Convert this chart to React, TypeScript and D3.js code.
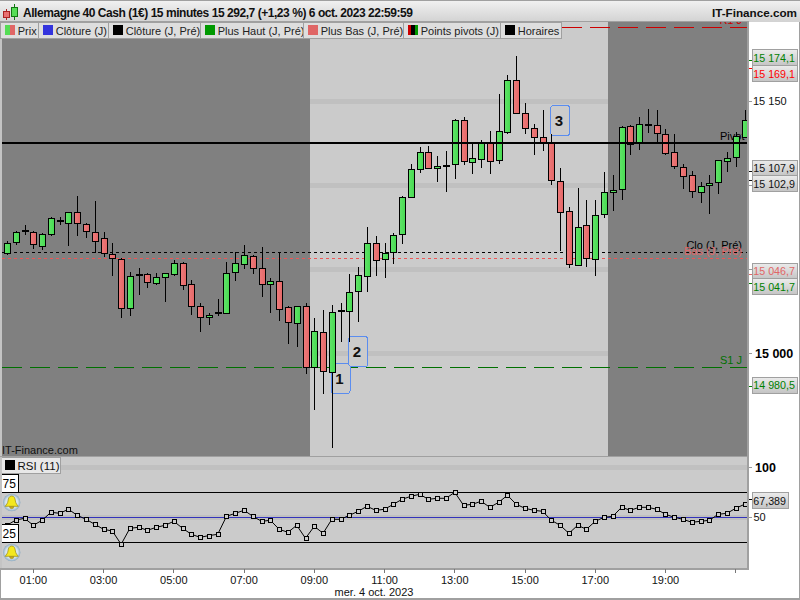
import React from "react";
import * as d3 from "d3";

const opens = [15059.5,15066.3,15072.5,15072.3,15064,15070.7,15078.6,15077.3,15083.8,15076.7,15071.9,15068.4,15058.9,15055.9,15027.1,15046.3,15047,15041.6,15045.5,15047,15053.5,15041,15028.3,15021.8,15023.8,15023.8,15048.2,15052.9,15057.7,15050.5,15041,15042.8,15027.3,15017.8,15027.9,14991.7,15012.5,14988.7,15025.1,15025,15036.9,15045.8,15065.4,15056.1,15060.4,15070.7,15093.1,15109.4,15119.5,15110,15111.6,15112.4,15138.5,15113.5,15115.3,15125,15114.7,15131.4,15162.3,15142.7,15133.8,15128.4,15124.8,15102.3,15084.4,15052.3,15076.1,15055.9,15082.6,15095.7,15097.5,15135,15125.4,15135.7,15135.5,15130.2,15119.5,15110.6,15105.8,15095.7,15099.9,15101.7,15114.1,15116.5,15128.4];
const highs = [15066.5,15072.7,15076.3,15072.7,15071.3,15081.2,15081.2,15084,15093.5,15077.3,15090.5,15071.9,15065.4,15056.5,15048.2,15050.5,15047.6,15047.6,15047.9,15055.5,15054.5,15043.6,15029.7,15023.8,15032.1,15054.3,15060,15064.4,15058.4,15063,15044.6,15060,15028.3,15028.3,15029.7,15021,15025.7,15028.7,15029.7,15047.1,15051.1,15074.9,15069.7,15065.4,15071.3,15093.5,15112.5,15122.6,15123.2,15117.3,15120.3,15139.3,15140.3,15124.8,15126.6,15132.2,15154.2,15165.5,15176.7,15148.8,15136.1,15144.5,15130.2,15110,15087.2,15098.1,15091.1,15091.1,15107.6,15106,15135.1,15135.5,15140.5,15145.2,15144.5,15133.2,15130.2,15112.5,15108.2,15101.7,15106,15114.7,15119.9,15131.7,15144.6];
const lows = [15058.4,15064.4,15070.3,15061.8,15061.4,15069.9,15076.3,15063.8,15069.9,15068.7,15059.5,15057.4,15046,15021.2,15022.2,15034.7,15038.6,15040.6,15030.7,15046.1,15037.6,15022.8,15012.8,15016.8,15022.2,15023.8,15043,15050.1,15047.1,15033.6,15024.1,15019.4,15005.7,15003.9,14987.9,14966.3,14976,14943.9,15006.9,15006.9,15018.8,15036.6,15046,15044.9,15052.9,15065,15092.9,15107.4,15109.6,15102,15096.1,15103.6,15112.1,15106.8,15110.3,15106.8,15112.5,15130.2,15142.7,15130.4,15118.1,15120.4,15100.2,15060.8,15050.9,15052.3,15051.5,15046.1,15080.6,15084.8,15091.1,15117.9,15120.9,15131.1,15125.4,15117.7,15109.4,15097.5,15092.5,15089.5,15083,15094.9,15108,15110.9,15128.4];
const closes = [15065.8,15072.3,15072.9,15064.8,15070.7,15080.3,15079,15083.8,15077.3,15072.7,15066.9,15059.5,15056.5,15026.8,15045.8,15046.7,15042.2,15045.2,15047.6,15053.5,15040.4,15027.9,15021.4,15022.9,15024.2,15047.6,15053.5,15058.3,15050.5,15041,15042.8,15026.2,15018.4,15028.3,14991.7,15013.1,14989.3,15024.4,15025.5,15036.3,15046.4,15065.4,15055.3,15059.5,15070.2,15093.1,15109.4,15119.9,15110.3,15111.2,15112,15138.5,15114.1,15115.9,15125.8,15114.1,15132,15162.3,15142.7,15133.8,15128.4,15125.2,15102.8,15083.8,15052.9,15075.3,15056.5,15082,15095.7,15096.9,15134.4,15124.4,15136.1,15136.1,15130.8,15118.9,15111.2,15105.2,15096.3,15099.3,15101.1,15114.7,15115.9,15129,15138.5];
const rsiValues = [42,47.3,49,42,47,55,54,58,52,48,43,38,36.3,23,39,40,37,40,42,46,39,33,30,31.7,33,51,54,57,51,46,47,38,35,42,29,41,34,48,48,52,56,61,57,58,63,68,71,73,68,69,69,75,62,63,66,60,65,72,63,59,57,56,47,42,34,42,38,46,50,51,60,57,60,60,58,53,50,48,45,46,47,53,54,59,63];

const sessionStart = 34.5;
const sessionEnd = 68.5;
const priceGridValues = [15150, 15100, 15050, 15000];
const rsiGridValues = [100, 50];
const pivotValue = 15125;
const prevCloseValue = 15060;
const prevLowValue = 15056.5;
const s1Value = 14991.7;
const r1Value = 15193.9;

const tickIndexes = [3, 11, 19, 27, 35, 43, 51, 59, 67, 75, 83];
const tickLabels = ["01:00", "03:00", "05:00", "07:00", "09:00", "11:00", "13:00", "15:00", "17:00", "19:00", ""];

const axisBoxValues = [15174.1, 15169.1, 15107.9, 15102.9, 15046.7, 15041.7, 14980.5];
const axisBoxColors = ["#008000", "#ff0000", "#111111", "#111111", "#e06666", "#008000", "#008000"];
const axisBoxCenters = [57.5, 73.5, 168, 183.5, 271, 286.7, 385];

const legendNames = ["Prix", "Clôture (J)", "Clôture (J, Pré)", "Plus Haut (J, Pré)", "Plus Bas (J, Pré)", "Points pivots (J)", "Horaires"];
const legendEdges = [1, 39, 109, 201, 304, 404, 501, 562];
const legendSwatches = ["split", "#3333dd", "#000000", "#009900", "#e06666", "pivot", "#000000"];

const callouts = [
  { label: "1", index: 38, value: 14985 },
  { label: "2", index: 40, value: 15001 },
  { label: "3", index: 63, value: 15138.4 },
];

const X0 = 2;
const X1 = 747;

const fr = d3.formatLocale({ decimal: ",", thousands: " ", grouping: [3], currency: ["", ""] });
const f1 = fr.format(",.1f");
const f0 = fr.format(",.0f");
const f3 = fr.format(",.3f");

const x = d3.scaleLinear().domain([0, 84]).range([7, 744.5]);
const y = d3.scaleLinear().domain([15000, 15150]).range([353.3, 101]);
const ry = d3.scaleLinear().domain([50, 100]).range([517.3, 467.3]);
const FONT = "'Liberation Sans', Arial, sans-serif";

function Bell({ cx, cy }: { cx: number; cy: number }) {
  return (
    <g transform={`translate(${cx},${cy})`}>
      <circle r={8.7} fill="url(#bellGlow)" />
      <path
        d="M0,-6.5 C2.6,-6.5 3.4,-4.2 3.7,-1.5 C4,1 5.5,2.4 6.6,3.8 L-6.6,3.8 C-5.5,2.4 -4,1 -3.7,-1.5 C-3.4,-4.2 -2.6,-6.5 0,-6.5 Z"
        fill="#f4e81e"
        stroke="#9a8a10"
        strokeWidth={0.7}
      />
      <path d="M-2.2,4 A2.2,2.2 0 0 0 2.2,4 Z" fill="#c9a812" stroke="#9a8a10" strokeWidth={0.5} />
    </g>
  );
}

export default function App() {
  return (
    <svg
      width={800}
      height={600}
      viewBox="0 0 800 600"
      style={{ position: "absolute", left: 0, top: 0, background: "#fff", fontFamily: FONT }}
    >
      <defs>
        <linearGradient id="titleGrad" x1="0" x2="0" y1="0" y2="1">
          <stop offset="0" stopColor="#f2f2f2" />
          <stop offset="1" stopColor="#d2d2d2" />
        </linearGradient>
        <linearGradient id="boxGrad" x1="0" x2="0" y1="0" y2="1">
          <stop offset="0" stopColor="#ececec" />
          <stop offset="1" stopColor="#c4c4c4" />
        </linearGradient>
        <linearGradient id="upGrad" x1="0" x2="1" y1="0" y2="0">
          <stop offset="0" stopColor="#62e46a" />
          <stop offset="1" stopColor="#46da50" />
        </linearGradient>
        <linearGradient id="downGrad" x1="0" x2="1" y1="0" y2="0">
          <stop offset="0" stopColor="#ee7c7c" />
          <stop offset="1" stopColor="#e46666" />
        </linearGradient>
        <radialGradient id="bellGlow">
          <stop offset="0" stopColor="#eef6fb" />
          <stop offset="0.7" stopColor="#d4e3ec" />
          <stop offset="1" stopColor="#8fabc0" />
        </radialGradient>
        <clipPath id="mainClip">
          <rect x={X0} y={22} width={X1 - X0} height={434} />
        </clipPath>
        <clipPath id="rsiClip">
          <rect x={X0} y={457} width={X1 - X0} height={111} />
        </clipPath>
      </defs>

      {/* price panel */}
      <g clipPath="url(#mainClip)" shapeRendering="crispEdges">
        <rect x={X0} y={22} width={X1 - X0} height={434} fill="#808080" />
        <rect x={x(sessionStart)} y={22} width={x(sessionEnd) - x(sessionStart)} height={434} fill="#cbcbcb" />
        {priceGridValues.map((v) => (
          <rect key={v} x={x(sessionStart)} y={Math.round(y(v)) - 2} width={x(sessionEnd) - x(sessionStart)} height={5} fill="#c0c0c0" />
        ))}
        <line x1={X0} x2={X1} y1={y(r1Value)} y2={y(r1Value)} stroke="#cc0000" strokeDasharray="20 8" />
        <line x1={X0} x2={X1} y1={y(s1Value)} y2={y(s1Value)} stroke="#007000" strokeDasharray="20 8" />
        <line x1={X0} x2={X1} y1={y(prevCloseValue)} y2={y(prevCloseValue)} stroke="#000" strokeDasharray="3 3" />
        <line x1={X0} x2={X1} y1={y(prevLowValue)} y2={y(prevLowValue)} stroke="#ee5555" strokeDasharray="3 3" />
      </g>
      <g clipPath="url(#mainClip)" fontSize={11}>
        <text x={742} y={24} textAnchor="end" fill="#cc0000">R1 J</text>
        <text x={742} y={249} textAnchor="end" fill="#000">Clo (J, Pré)</text>
        <text x={742} y={255} textAnchor="end" fill="#e06666">Bas (J, Pré)</text>
        <text x={720} y={140} fill="#000">Pivot J</text>
        <text x={742} y={364} textAnchor="end" fill="#007000">S1 J</text>
        <text x={2} y={454} fill="#111">IT-Finance.com</text>
      </g>

      {callouts.map((c) => (
        <g key={c.label}>
          <rect
            x={x(c.index) - 9.5}
            y={y(c.value) - 15}
            width={19}
            height={30}
            rx={3}
            fill="#cbcbcb"
            stroke="#5b8def"
            strokeWidth={1}
            shapeRendering="crispEdges"
          />
          <text x={x(c.index) - 1.3} y={y(c.value) + 5.5} textAnchor="middle" fontSize={15} fontWeight="bold" fill="#111">{c.label}</text>
        </g>
      ))}

      {/* candles */}
      <g clipPath="url(#mainClip)" shapeRendering="crispEdges">
        {opens.map((o, i) => {
          const c = closes[i];
          const cx = Math.round(x(i));
          const top = Math.round(y(Math.max(o, c)));
          const bot = Math.round(y(Math.min(o, c)));
          return (
            <g key={i}>
              <line x1={cx + 0.5} x2={cx + 0.5} y1={y(highs[i])} y2={y(lows[i])} stroke="#000" strokeWidth={1} />
              {bot - top < 1 ? (
                <rect x={cx - 3} y={top - 1} width={7} height={2} fill="#000" />
              ) : (
                <rect
                  x={cx - 2.5}
                  y={top + 0.5}
                  width={6}
                  height={bot - top}
                  fill={c >= o ? "url(#upGrad)" : "url(#downGrad)"}
                  stroke="#000"
                  strokeWidth={1}
                />
              )}
            </g>
          );
        })}
      </g>
      <line x1={X0} x2={X1} y1={y(pivotValue)} y2={y(pivotValue)} stroke="#000" strokeWidth={2} shapeRendering="crispEdges" />

      {/* RSI panel */}
      <rect x={0} y={456} width={X1} height={112} fill="#cbcbcb" shapeRendering="crispEdges" />
      <g clipPath="url(#rsiClip)" shapeRendering="crispEdges">
        {rsiGridValues.map((v) => (
          <rect key={v} x={X0} y={Math.round(ry(v)) - 2} width={X1 - X0} height={5} fill="#c0c0c0" />
        ))}
        <line x1={0} x2={X1} y1={ry(75)} y2={ry(75)} stroke="#000" />
        <line x1={0} x2={X1} y1={ry(25)} y2={ry(25)} stroke="#000" />
        <line x1={0} x2={X1} y1={ry(50)} y2={ry(50)} stroke="#3333bb" />
      </g>
      <g clipPath="url(#rsiClip)">
        <path
          d={d3.line<number>().x((_, i) => x(i)).y((v) => ry(v))(rsiValues) ?? ""}
          fill="none"
          stroke="#000"
          strokeWidth={1}
        />
        {rsiValues.map((v, i) => (
          <rect
            key={i}
            x={Math.round(x(i)) - 2}
            y={Math.round(ry(v)) - 2}
            width={4}
            height={4}
            fill="#cbcbcb"
            stroke="#000"
            shapeRendering="crispEdges"
            transform="translate(0.5,0.5)"
          />
        ))}
      </g>
      <rect x={0.5} y={474.5} width={18} height={18} fill="#fff" stroke="#000" shapeRendering="crispEdges" />
      <text x={2.5} y={488} fontSize={12} fill="#000">75</text>
      <rect x={0.5} y={524.5} width={18} height={18} fill="#fff" stroke="#000" shapeRendering="crispEdges" />
      <text x={2.5} y={538} fontSize={12} fill="#000">25</text>
      <Bell cx={11.7} cy={502.5} />
      <Bell cx={11.7} cy={552.5} />
      <rect x={0.5} y={457.5} width={60} height={16} fill="#e8e8e8" stroke="#a0a0a0" shapeRendering="crispEdges" />
      <rect x={5} y={460} width={10} height={10} fill="#000" />
      <text x={17.5} y={470} fontSize={11.5} fill="#111">RSI (11)</text>

      {/* frame */}
      <g shapeRendering="crispEdges">
        <rect x={0} y={22} width={2} height={546} fill="#c4c4c4" />
        <rect x={747} y={22} width={2} height={547} fill="#a0a0a0" />
        <rect x={0} y={456} width={749} height={1} fill="#a0a0a0" />
        <rect x={0} y={568} width={749} height={1.5} fill="#a0a0a0" />
        <rect x={0} y={598} width={800} height={2} fill="#a0a0a0" />
        <rect x={0} y={569} width={1} height={30} fill="#a0a0a0" />
        <rect x={799} y={0} width={1} height={600} fill="#a0a0a0" />
      </g>

      {/* time axis */}
      <g>
        {tickIndexes.map((ti, k) => (
          <g key={ti}>
            <line x1={x(ti)} x2={x(ti)} y1={569} y2={573} stroke="#777" shapeRendering="crispEdges" />
            <text x={x(ti)} y={584} textAnchor="middle" fontSize={11} fill="#111">{tickLabels[k]}</text>
          </g>
        ))}
        <text x={374} y={596} textAnchor="middle" fontSize={11} fill="#111">mer. 4 oct. 2023</text>
      </g>

      {/* right axis */}
      <g>
        {priceGridValues.map((v) => (
          <line key={v} x1={749} x2={752} y1={y(v)} y2={y(v)} stroke="#999" shapeRendering="crispEdges" />
        ))}
        <text x={753} y={y(15150) + 4} fontSize={11} fill="#111">{f0(15150)}</text>
        <text x={755} y={y(15000) + 5} fontSize={12.5} fontWeight="bold" fill="#000">{f0(15000)}</text>
        {axisBoxValues.map((v, i) => (
          <g key={v}>
            <line x1={749} x2={752} y1={y(v)} y2={y(v)} stroke={axisBoxColors[i]} shapeRendering="crispEdges" />
            <rect x={752.5} y={axisBoxCenters[i] - 8} width={45} height={16} fill="url(#boxGrad)" stroke="#a0a0a0" shapeRendering="crispEdges" />
            <text x={753.3} y={axisBoxCenters[i] + 4} fontSize={10.7} fill={axisBoxColors[i]}>{f1(v)}</text>
          </g>
        ))}
        <line x1={749} x2={752} y1={ry(100)} y2={ry(100)} stroke="#999" shapeRendering="crispEdges" />
        <text x={755} y={ry(100) + 5} fontSize={12.5} fontWeight="bold" fill="#000">100</text>
        <line x1={749} x2={752} y1={ry(50)} y2={ry(50)} stroke="#999" shapeRendering="crispEdges" />
        <text x={753.5} y={ry(50) + 4} fontSize={11} fill="#111">50</text>
        <line x1={749} x2={752} y1={ry(67.389)} y2={ry(67.389)} stroke="#000" shapeRendering="crispEdges" />
        <rect x={752.5} y={492.5} width={36} height={16} fill="url(#boxGrad)" stroke="#a0a0a0" shapeRendering="crispEdges" />
        <text x={753.3} y={505} fontSize={10.7} fill="#111">{f3(67.389)}</text>
      </g>

      {/* title bar */}
      <rect x={0} y={0} width={800} height={22} fill="url(#titleGrad)" shapeRendering="crispEdges" />
      <rect x={0} y={0} width={800} height={1} fill="#a0a0a0" shapeRendering="crispEdges" />
      <rect x={0} y={21} width={749} height={1} fill="#a0a0a0" shapeRendering="crispEdges" />
      <g shapeRendering="crispEdges">
        <line x1={6.5} x2={6.5} y1={9} y2={20} stroke="#aa2222" />
        <rect x={3.5} y={11.5} width={6} height={6} fill="#e87070" stroke="#aa2222" />
        <line x1={14.5} x2={14.5} y1={4} y2={20} stroke="#117711" />
        <rect x={11.5} y={7.5} width={6} height={9} fill="#55dd55" stroke="#117711" />
      </g>
      <text x={23} y={17} fontSize={12} fontWeight="bold" fill="#111" textLength={390} lengthAdjust="spacing">
        Allemagne 40 Cash (1€) 15 minutes 15 292,7 (+1,23 %) 6 oct. 2023 22:59:59
      </text>
      <text x={797} y={17} textAnchor="end" fontSize={11.7} fontWeight="bold" fill="#111">IT-Finance.com</text>

      {/* legend tabs */}
      {legendNames.map((name, i) => {
        const left = legendEdges[i];
        const right = legendEdges[i + 1];
        const sw = legendSwatches[i];
        return (
          <g key={name}>
            <rect x={left - 0.5} y={22.5} width={right - left} height={16} fill="#dedede" stroke="#a0a0a0" shapeRendering="crispEdges" />
            {sw === "split" ? (
              <g shapeRendering="crispEdges">
                <rect x={left + 4} y={25} width={5} height={10} fill="#55dd55" />
                <rect x={left + 9} y={25} width={5} height={10} fill="#e06666" />
              </g>
            ) : sw === "pivot" ? (
              <g shapeRendering="crispEdges">
                <rect x={left + 4} y={25} width={3} height={10} fill="#cc0000" />
                <rect x={left + 7} y={25} width={4} height={10} fill="#000" />
                <rect x={left + 11} y={25} width={3} height={10} fill="#009900" />
              </g>
            ) : (
              <rect x={left + 4} y={25} width={10} height={10} fill={sw} shapeRendering="crispEdges" />
            )}
            <text x={left + 16.7} y={35} fontSize={11} fill="#222">{name}</text>
          </g>
        );
      })}
    </svg>
  );
}
